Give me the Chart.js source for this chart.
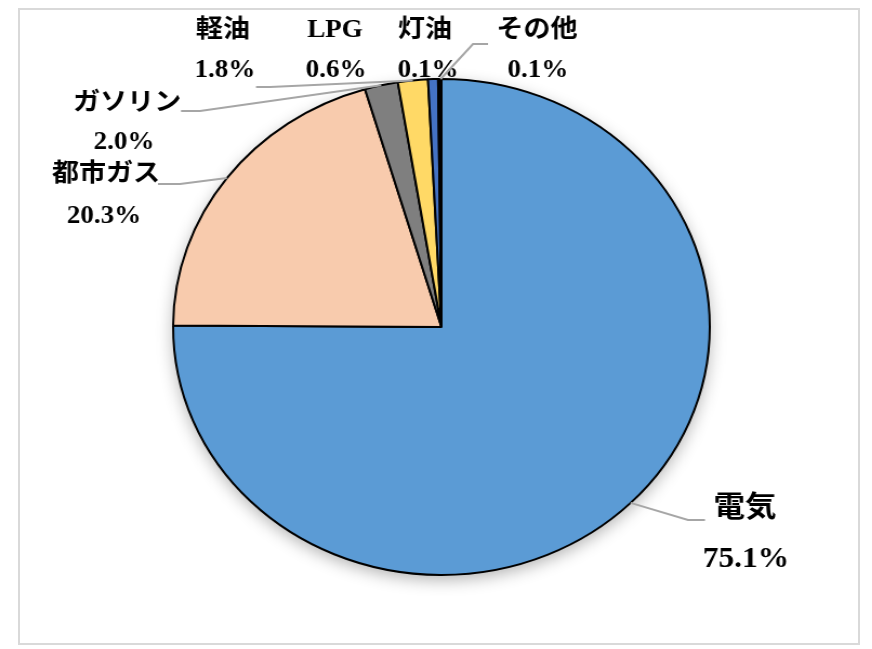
<!DOCTYPE html>
<html>
<head>
<meta charset="utf-8">
<script src="https://cdn.jsdelivr.net/npm/chart.js@4.4.1/dist/chart.umd.min.js"></script>
<style>
  html, body { margin: 0; padding: 0; background: #fff; }
  body { width: 872px; height: 649px; position: relative; overflow: hidden; }
  #frame {
    position: absolute; left: 18px; top: 8px; width: 842px; height: 637px;
    border: 2px solid #d9d9d9; box-sizing: border-box;
  }
  /* the source picture is stretched a little wider than tall */
  #wrap {
    position: absolute; left: 0; top: 0; width: 806px; height: 649px;
    transform: scaleX(1.082); transform-origin: 0 0;
  }
</style>
</head>
<body>
<div id="frame"></div>
<div id="wrap"><canvas id="pie"></canvas></div>
<script>
// ── Data ────────────────────────────────────────────────
const categories = ['電気', '都市ガス', 'ガソリン', '軽油', 'LPG', '灯油', 'その他'];
const shares = [75.1, 20.3, 2.0, 1.8, 0.6, 0.1, 0.1];
const colors = ['#5b9bd5', '#f8cbad', '#7f7f7f', '#ffd966', '#4472c4', '#203864', '#203864'];

// ── Label layout (page pixels) ──────────────────────────
const SX = 1.082;
const labelPos = [
    { name: [745, 510], pct: [746, 560], size: 29, line: [[688, 520], [705, 520]] },
    { name: [106, 175], pct: [104, 217], size: 25, line: [[180, 184], [158, 184]] },
    { name: [127, 104], pct: [124, 143], size: 25, line: [[200, 111], [181, 111]] },
    { name: [223, 31], pct: [225, 71], size: 25, line: [[270, 87], [256, 87]] },
    { name: [335, 31], pct: [336, 71], size: 25, line: null },
    { name: [425, 31], pct: [428, 71], size: 25, line: null },
    { name: [537, 31], pct: [538, 71], size: 25, line: [[473, 44], [488, 44]] }
];

const pieDecor = {
    id: 'pieDecor',
    beforeDatasetsDraw(chart) {
        const arc = chart.getDatasetMeta(0).data[0];
        if (!arc) return;
        const ctx = chart.ctx;
        ctx.save();
        ctx.shadowColor = 'rgba(0,0,0,0.3)';
        ctx.shadowBlur = 16;
        ctx.shadowOffsetY = 5;
        ctx.fillStyle = '#fff';
        ctx.beginPath();
        ctx.arc(arc.x, arc.y, arc.outerRadius, 0, Math.PI * 2);
        ctx.fill();
        ctx.restore();
    },
    afterDraw(chart) {
        const ctx = chart.ctx;
        const arcs = chart.getDatasetMeta(0).data;
        ctx.save();
        arcs.forEach((arc, i) => {
            const lp = labelPos[i];
            if (lp.line) {
                const mid = (arc.startAngle + arc.endAngle) / 2;
                ctx.strokeStyle = '#a6a6a6';
                ctx.lineWidth = 2;
                ctx.beginPath();
                ctx.moveTo(arc.x + Math.cos(mid) * arc.outerRadius, arc.y + Math.sin(mid) * arc.outerRadius);
                lp.line.forEach(p => ctx.lineTo(p[0] / SX, p[1]));
                ctx.stroke();
            }
            ctx.fillStyle = '#000';
            ctx.textAlign = 'center';
            ctx.textBaseline = 'middle';
            ctx.font = 'bold ' + lp.size + 'px "Liberation Serif", "Noto Sans CJK JP", serif';
            ctx.fillText(categories[i], lp.name[0] / SX, lp.name[1]);
            ctx.fillText(shares[i].toFixed(1) + '%', lp.pct[0] / SX, lp.pct[1]);
        });
        ctx.restore();
    }
};

new Chart(document.getElementById('pie'), {
    type: 'pie',
    data: {
        labels: categories,
        datasets: [{
            data: shares,
            backgroundColor: colors,
            borderColor: '#000',
            borderWidth: 2
        }]
    },
    options: {
        responsive: true,
        maintainAspectRatio: false,
        animation: false,
        layout: { padding: { left: 159, right: 149, top: 78, bottom: 73 } },
        plugins: {
            legend: { display: false },
            tooltip: { enabled: false }
        }
    },
    plugins: [pieDecor]
});
</script>
</body>
</html>
